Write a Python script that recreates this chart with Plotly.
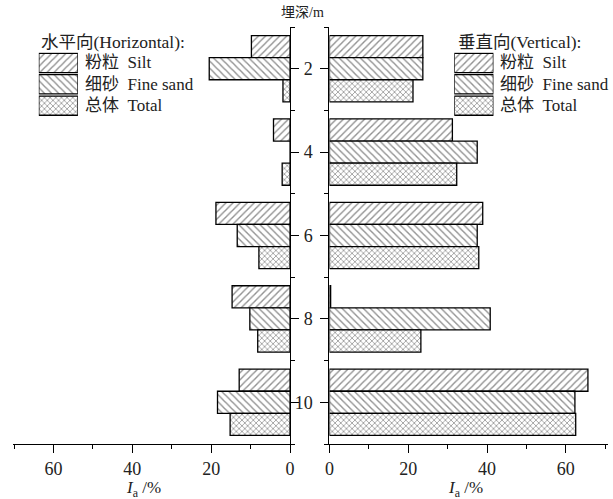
import plotly.graph_objects as go

# ---------------- data ----------------
depths = [2, 4, 6, 8, 10]
series_names_cn = ["粉粒", "细砂", "总体"]
series_names_en = ["Silt", "Fine sand", "Total"]
patterns = ["/", "\\", "x"]

h_silt = [9.8, 4.2, 18.8, 14.7, 12.9]
h_fine = [20.5, 0.0, 13.4, 10.2, 18.4]
h_total = [1.8, 2.0, 7.9, 8.2, 15.2]

v_silt = [23.7, 31.2, 38.9, 0.3, 65.6]
v_fine = [23.7, 37.5, 37.5, 40.8, 62.3]
v_total = [21.2, 32.3, 37.9, 23.2, 62.5]

x_ticks = [0, 20, 40, 60]
y_ticks = [2, 4, 6, 8, 10]

# ---------------- layout geometry ----------------
W, H = 613, 499
T, B = 27, 55
PH = H - T - B  # plot area height


def px(x):
    return x / W


def py(y):
    return (H - B - y) / PH


FONT = "Liberation Serif, Times New Roman, Noto Sans CJK SC, serif"
fg = "#222222"

fig = go.Figure()

left_vals = [h_silt, h_fine, h_total]
right_vals = [v_silt, v_fine, v_total]


def bar_marker(i):
    return dict(color="white", line=dict(color="black", width=1.3),
                pattern=dict(shape=patterns[i], fgcolor=fg, bgcolor="white",
                             size=5 if i < 2 else 4,
                             solidity=0.28 if i < 2 else 0.35))


for i in range(3):
    fig.add_trace(go.Bar(
        y=depths, x=left_vals[i], orientation="h",
        xaxis="x", yaxis="y", marker=bar_marker(i),
        showlegend=False, hoverinfo="skip",
    ))
for i in range(3):
    fig.add_trace(go.Bar(
        y=depths, x=right_vals[i], orientation="h",
        xaxis="x2", yaxis="y2", marker=bar_marker(i),
        showlegend=False, hoverinfo="skip",
    ))

# legend swatches (drawn as bars on small hidden axes)
for ax, yax in (("x3", "y3"), ("x4", "y4")):
    for i in range(3):
        fig.add_trace(go.Bar(
            y=[i], x=[1], orientation="h", width=0.9,
            xaxis=ax, yaxis=yax, marker=bar_marker(i),
            showlegend=False, hoverinfo="skip",
        ))

axis_common = dict(showline=True, linecolor="black", linewidth=1.3,
                   ticks="outside", tickcolor="black", tickwidth=1.3,
                   showgrid=False, zeroline=False,
                   tickfont=dict(family=FONT, size=18, color="#222"))

minor_x = dict(ticks="outside", ticklen=4, tickcolor="black", tickwidth=1.3,
               dtick=10, tick0=0, showgrid=False)
minor_y = dict(ticks="outside", ticklen=4, tickcolor="black", tickwidth=1.3,
               dtick=2, tick0=1, showgrid=False)

fig.update_layout(
    width=W, height=H,
    margin=dict(l=0, r=0, t=T, b=B, pad=0),
    paper_bgcolor="white", plot_bgcolor="white",
    barmode="overlay",
    font=dict(family=FONT, size=17, color="#222"),
    xaxis=dict(domain=[px(8), px(289.3)], range=[70.3, 0], anchor="y",
               tickvals=x_ticks, ticklen=8, minor=minor_x, **axis_common),
    yaxis=dict(domain=[0, 1], range=[11, 1], anchor="x", side="right",
               tickvals=y_ticks, ticklen=8, showticklabels=False,
               minor=minor_y, **axis_common),
    xaxis2=dict(domain=[px(329.3), px(612)], range=[0, 70.7], anchor="y2",
                tickvals=x_ticks, ticklen=8, minor=minor_x, **axis_common),
    yaxis2=dict(domain=[0, 1], range=[11, 1], anchor="x2", side="left",
                tickvals=y_ticks, ticklen=8, ticklabelstandoff=4,
                minor=minor_y, **axis_common),
    xaxis3=dict(domain=[px(34.3), px(74)], range=[0, 1], anchor="y3", visible=False),
    yaxis3=dict(domain=[py(116.3), py(52.3)], range=[2.5, -0.5], anchor="x3", visible=False),
    xaxis4=dict(domain=[px(456), px(495.7)], range=[0, 1], anchor="y4", visible=False),
    yaxis4=dict(domain=[py(116.3), py(52.3)], range=[2.5, -0.5], anchor="x4", visible=False),
)

# grouped bars for the two data panels: offsets per trace (silt top, total bottom)
bw = 0.53
for k, tr in enumerate(fig.data[:6]):
    j = k % 3
    tr.width = bw
    tr.offset = -1.5 * bw + j * bw

ann = []
# legend titles
ann.append(dict(text="水平向(Horizontal):", x=px(35), y=py(42), xref="paper", yref="paper",
                xanchor="left", yanchor="middle", showarrow=False,
                font=dict(family=FONT, size=17.5, color="#222")))
ann.append(dict(text="垂直向(Vertical):", x=px(457.3), y=py(42), xref="paper", yref="paper",
                xanchor="left", yanchor="middle", showarrow=False,
                font=dict(family=FONT, size=17.5, color="#222")))
for i in range(3):
    label = series_names_cn[i] + "\u00a0\u00a0" + series_names_en[i]
    ann.append(dict(text=label, x=px(79.3), y=i, xref="paper", yref="y3",
                    xanchor="left", yanchor="middle", showarrow=False,
                    font=dict(family=FONT, size=17, color="#222")))
    ann.append(dict(text=label, x=px(500.7), y=i, xref="paper", yref="y4",
                    xanchor="left", yanchor="middle", showarrow=False,
                    font=dict(family=FONT, size=17, color="#222")))
# depth title
ann.append(dict(text="埋深/m", x=px(302), y=py(13), xref="paper", yref="paper",
                xanchor="center", yanchor="middle", showarrow=False,
                font=dict(family=FONT, size=14, color="#222")))
# x axis titles
for cx in (141, 467):
    ann.append(dict(text="<i>I</i><sub>a</sub> /%", x=px(cx), y=py(489), xref="paper", yref="paper",
                    xanchor="center", yanchor="middle", showarrow=False,
                    font=dict(family=FONT, size=17, color="#222")))
fig.update_layout(annotations=ann)

fig.write_html("out.html")
